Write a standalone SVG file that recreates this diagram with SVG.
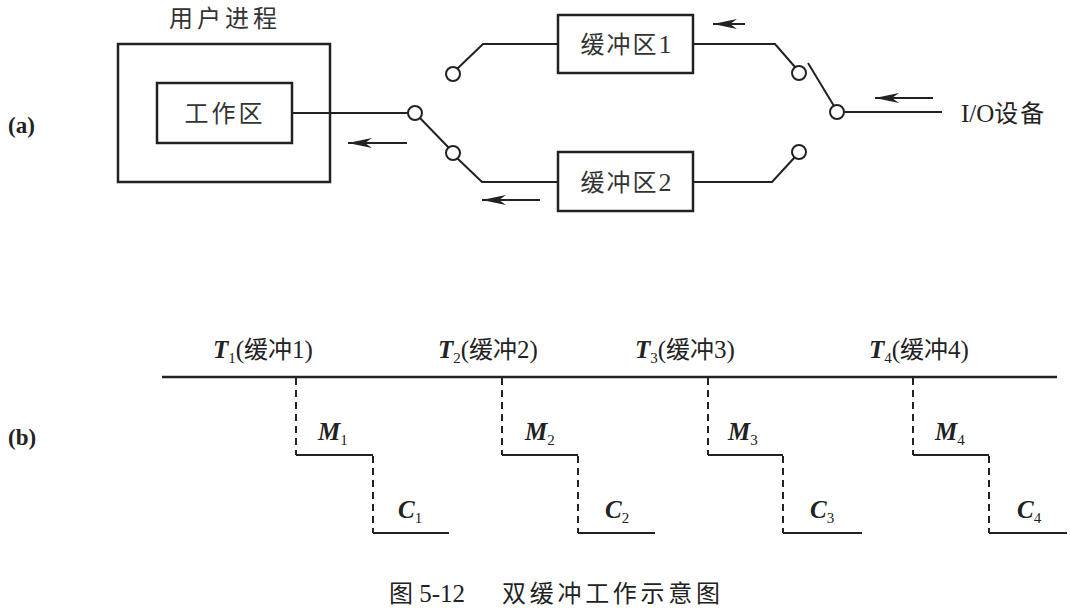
<svg xmlns="http://www.w3.org/2000/svg" width="1070" height="610" viewBox="0 0 1070 610">
<style>
.ln{stroke:#222;stroke-width:2;fill:none}
.tl{stroke:#222;stroke-width:2.5;fill:none}
.ds{stroke:#222;stroke-width:2;fill:none;stroke-dasharray:7,5}
.cir{stroke:#222;stroke-width:2;fill:#fff}
.box{stroke:#222;stroke-width:2.5;fill:#fff}
.cn{font-family:"Noto Sans CJK SC",sans-serif;font-size:24px;fill:#333}
.se{font-family:"Liberation Serif","Noto Sans CJK SC",serif;font-size:25px;fill:#222}
.it{font-style:italic}
.sub{font-size:15px}
.lb{font-family:"Liberation Serif",serif;font-size:23px;font-weight:bold;fill:#222}
</style>
<defs>
<marker id="ah" viewBox="0 0 24 10" refX="24" refY="5" markerWidth="24" markerHeight="10" markerUnits="userSpaceOnUse" orient="auto">
<path d="M24,5 L0,0 L7,5 L0,10 Z" fill="#222"/>
</marker>
</defs>
<rect width="1070" height="610" fill="#fff"/>

<text class="lb" x="8" y="133">(a)</text>
<text class="lb" x="8" y="445">(b)</text>

<g id="user-process">
<text class="cn" x="225" y="27" font-size="23" text-anchor="middle" letter-spacing="4">用户进程</text>
<rect class="box" x="118" y="44" width="212" height="138"/>
</g>
<g id="workarea">
<rect class="box" x="157" y="83" width="135" height="60"/>
<text class="cn" x="225" y="122" text-anchor="middle" letter-spacing="3">工作区</text>
</g>
<g id="buffer1">
<rect class="box" x="558" y="15" width="135" height="58"/>
<text class="cn" x="627" y="53" text-anchor="middle" letter-spacing="2">缓冲区<tspan font-family="Liberation Serif" font-size="26">1</tspan></text>
</g>
<g id="buffer2">
<rect class="box" x="558" y="152" width="135" height="59"/>
<text class="cn" x="627" y="191" text-anchor="middle" letter-spacing="2">缓冲区<tspan font-family="Liberation Serif" font-size="26">2</tspan></text>
</g>
<g id="io-device">
<text class="se" x="961" y="122" font-size="26">I/O<tspan font-family="Noto Sans CJK SC" font-size="24" letter-spacing="2">设备</tspan></text>
</g>

<g id="connectors">
<line class="ln" x1="292" y1="113" x2="409" y2="113"/>
<line class="ln" x1="419" y1="117" x2="449" y2="148"/>
<polyline class="ln" points="457,158 482,182 558,182"/>
<polyline class="ln" points="457,69 483,44 558,44"/>
<polyline class="ln" points="693,44 775,44 795,67"/>
<line class="ln" x1="808" y1="63" x2="834" y2="106"/>
<line class="ln" x1="844" y1="112" x2="942" y2="112"/>
<polyline class="ln" points="795,157 772,182 693,182"/>
<circle class="cir" cx="415" cy="113" r="7"/>
<circle class="cir" cx="453" cy="153" r="7"/>
<circle class="cir" cx="453" cy="74" r="7"/>
<circle class="cir" cx="799" cy="73" r="7"/>
<circle class="cir" cx="837" cy="112" r="7"/>
<circle class="cir" cx="799" cy="152" r="7"/>
<line class="ln" x1="407" y1="143" x2="348" y2="143" marker-end="url(#ah)"/>
<line class="ln" x1="540" y1="200" x2="482" y2="200" marker-end="url(#ah)"/>
<line class="ln" x1="745" y1="24" x2="713" y2="24" marker-end="url(#ah)"/>
<line class="ln" x1="933" y1="98" x2="875" y2="98" marker-end="url(#ah)"/>
</g>

<g id="timeline">
<line class="tl" x1="162" y1="377" x2="1057" y2="377"/>
<path class="ds" d="M296,378V455M502,378V455M708,378V455M913,378V455M373,456V533M578,456V533M783,456V533M989,456V533"/>
<path class="ln" d="M296,455H373M502,455H578M708,455H783M913,455H989M373,533H449M578,533H655M783,533H862M989,533H1067"/>
</g>

<g id="labels-b">
<text class="se" x="213" y="358"><tspan class="it" font-weight="bold">T</tspan><tspan class="sub" dy="5">1</tspan><tspan dy="-5">(</tspan><tspan font-family="Noto Sans CJK SC" font-size="24">缓冲</tspan>1)</text>
<text class="se" x="438" y="358"><tspan class="it" font-weight="bold">T</tspan><tspan class="sub" dy="5">2</tspan><tspan dy="-5">(</tspan><tspan font-family="Noto Sans CJK SC" font-size="24">缓冲</tspan>2)</text>
<text class="se" x="635" y="358"><tspan class="it" font-weight="bold">T</tspan><tspan class="sub" dy="5">3</tspan><tspan dy="-5">(</tspan><tspan font-family="Noto Sans CJK SC" font-size="24">缓冲</tspan>3)</text>
<text class="se" x="869" y="358"><tspan class="it" font-weight="bold">T</tspan><tspan class="sub" dy="5">4</tspan><tspan dy="-5">(</tspan><tspan font-family="Noto Sans CJK SC" font-size="24">缓冲</tspan>4)</text>
<text class="se" x="318" y="440"><tspan class="it" font-weight="bold">M</tspan><tspan class="sub" dy="5">1</tspan></text>
<text class="se" x="525" y="440"><tspan class="it" font-weight="bold">M</tspan><tspan class="sub" dy="5">2</tspan></text>
<text class="se" x="728" y="440"><tspan class="it" font-weight="bold">M</tspan><tspan class="sub" dy="5">3</tspan></text>
<text class="se" x="935" y="440"><tspan class="it" font-weight="bold">M</tspan><tspan class="sub" dy="5">4</tspan></text>
<text class="se" x="398" y="518"><tspan class="it" font-weight="bold">C</tspan><tspan class="sub" dy="5">1</tspan></text>
<text class="se" x="605" y="518"><tspan class="it" font-weight="bold">C</tspan><tspan class="sub" dy="5">2</tspan></text>
<text class="se" x="810" y="518"><tspan class="it" font-weight="bold">C</tspan><tspan class="sub" dy="5">3</tspan></text>
<text class="se" x="1017" y="518"><tspan class="it" font-weight="bold">C</tspan><tspan class="sub" dy="5">4</tspan></text>
</g>

<text class="se" x="389" y="602" font-size="25"><tspan font-family="Noto Sans CJK SC" font-size="24">图</tspan> 5-12<tspan x="502" font-family="Noto Sans CJK SC" font-size="24" textLength="218">双缓冲工作示意图</tspan></text>
</svg>
